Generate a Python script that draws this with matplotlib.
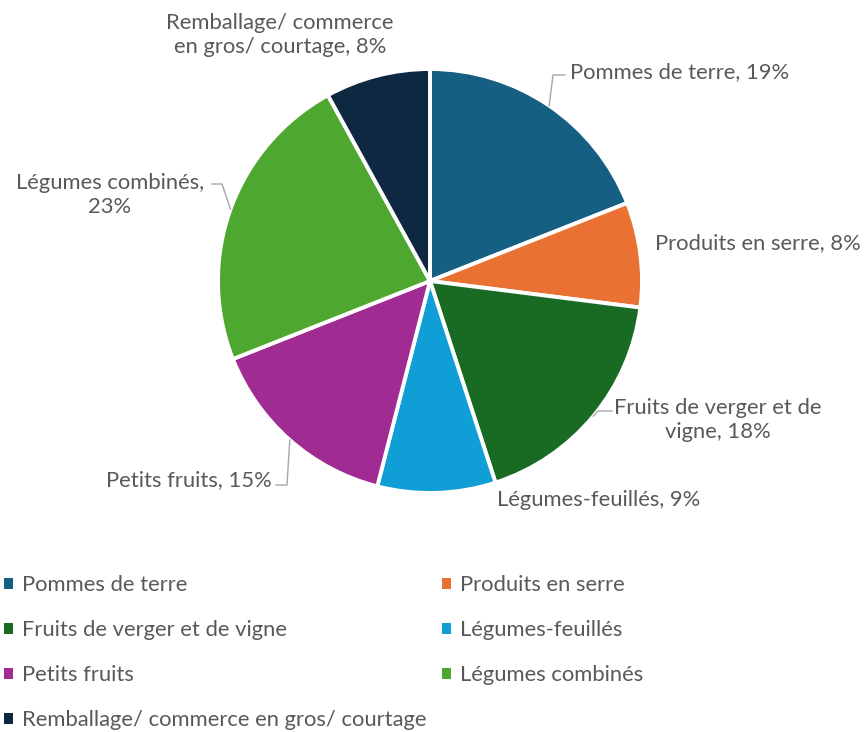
import numpy as np
import matplotlib
matplotlib.use('Agg')
import matplotlib.pyplot as plt
from matplotlib.patches import Patch

plt.rcParams['font.family'] = ['Lato', 'DejaVu Sans']

# Data
categories = ['Pommes de terre', 'Produits en serre', 'Fruits de verger et de vigne',
              'Légumes-feuillés', 'Petits fruits', 'Légumes combinés',
              'Remballage/ commerce en gros/ courtage']
shares = [19, 8, 18, 9, 15, 23, 8]
colors = ['#156082', '#E97132', '#196B24', '#0F9ED5', '#A02B93', '#4EA72E', '#0E2841']
slice_labels = ['Pommes de terre, 19%', 'Produits en serre, 8%', 'Fruits de verger et de\nvigne, 18%',
                'Légumes-feuillés, 9%', 'Petits fruits, 15%', 'Légumes combinés,\n23%',
                'Remballage/ commerce\nen gros/ courtage, 8%']

W, H = 867, 732
fig = plt.figure(figsize=(W / 100, H / 100), dpi=100)
ax = fig.add_axes([0, 0, 1, 1])

def py(y):
    # image pixel y (from top) -> data y
    return H - y

cx, cy, r = 430, 281, 212
wedges, _ = ax.pie(shares, colors=colors, startangle=90, counterclock=False,
                   center=(cx, py(cy)), radius=r, frame=True,
                   wedgeprops=dict(edgecolor='white', linewidth=2.8))
ax.set_xlim(0, W)
ax.set_ylim(0, H)
ax.set_aspect('equal')
ax.axis('off')

txt_color = '#595959'
fs = 15.8
line_color = '#A6A6A6'

# label layout: (x, y, ha, leader elbow points or None)
label_pos = [
    (570, 72, 'left', [(553, 75), (565, 75)]),
    (655, 243, 'left', None),
    (718, 420, 'center', [(598, 411), (612, 411)]),
    (497, 500, 'left', None),
    (272, 480, 'right', [(287, 485), (276, 485)]),
    (110, 195, 'center', [(222, 184), (212, 184)]),
    (280, 35, 'center', None),
]

cum = np.cumsum([0] + shares)
for i, (lx, ly, ha, elbow) in enumerate(label_pos):
    mid = 90 - 360 * (cum[i] + shares[i] / 2) / 100
    ex = cx + r * np.cos(np.radians(mid))
    ey = cy - r * np.sin(np.radians(mid))
    ax.text(lx, py(ly), slice_labels[i], ha=ha, va='center', fontsize=fs,
            color=txt_color, linespacing=1.2, multialignment='center')
    if elbow:
        xs = [ex] + [p[0] for p in elbow]
        ys = [py(ey)] + [py(p[1]) for p in elbow]
        ax.plot(xs, ys, color=line_color, lw=1)

# legend, column-wise order to match row layout
order = [0, 2, 4, 6, 1, 3, 5]
handles = [Patch(facecolor=colors[i], edgecolor='none') for i in order]
ax.legend(handles, [categories[i] for i in order], ncol=2, loc='upper left',
          bbox_to_anchor=(0.0, 1 - 571 / H), frameon=False, fontsize=fs,
          labelcolor=txt_color, handlelength=0.4, handleheight=0.4,
          handletextpad=0.4, labelspacing=1.14, columnspacing=0.75,
          borderaxespad=0.0, borderpad=0.18)

fig.savefig('out.png', dpi=100)
